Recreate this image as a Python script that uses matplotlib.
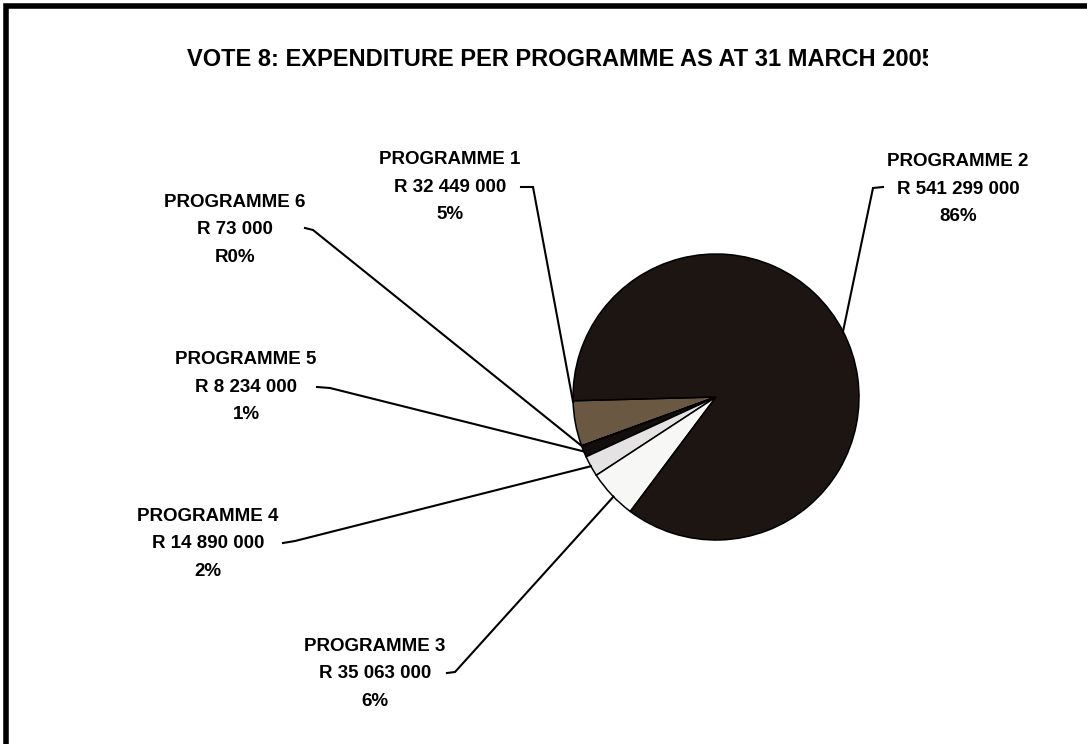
import matplotlib.pyplot as plt
from matplotlib.transforms import Bbox, TransformedBbox
import numpy as np

# Vote 8 expenditure per programme, 31 March 2005
programmes = ["PROGRAMME 1", "PROGRAMME 2", "PROGRAMME 3",
              "PROGRAMME 4", "PROGRAMME 5", "PROGRAMME 6"]
amounts = [32449000, 541299000, 35063000, 14890000, 8234000, 73000]
pct_labels = ["5%", "86%", "6%", "2%", "1%", "R0%"]
slice_colors = ["#6b5843", "#1c1512", "#f7f7f5", "#e4e2e2", "#130e0c", "#130e0c"]

# wedges go anticlockwise from the left: 1, 6, 5, 4, 3, then 2
draw_order = [0, 5, 4, 3, 2, 1]

W, H = 1087, 744
fig = plt.figure(figsize=(W / 100, H / 100), dpi=100)
ax = fig.add_axes([0, 0, 1, 1])


def fy(py):
    return H - py


pie_cx, pie_cy, pie_r = 716, fy(397), 143

wedges, _ = ax.pie([amounts[i] for i in draw_order],
                   colors=[slice_colors[i] for i in draw_order],
                   startangle=181.5, counterclock=True,
                   center=(pie_cx, pie_cy), radius=pie_r,
                   wedgeprops=dict(edgecolor="black", linewidth=1.1))
ax.set_xlim(0, W)
ax.set_ylim(0, H)
ax.set_aspect("equal")
ax.axis("off")

# label block: centre x, middle-row y, stub start, stub end, where on the wedge the leader lands
label_layout = {
    0: dict(x=450, y=185, stub=((521, 187), (533, 187)), frac=0.03),
    1: dict(x=958, y=187, stub=((883, 187), (873, 188)), frac=0.50),
    2: dict(x=375, y=672, stub=((447, 673), (455, 672)), frac=0.55),
    3: dict(x=208, y=542, stub=((283, 543), (295, 541)), frac=0.50),
    4: dict(x=246, y=385, stub=((317, 387), (330, 388)), frac=0.50),
    5: dict(x=235, y=228, stub=((305, 228), (313, 230)), frac=0.50),
}

font = dict(family="Liberation Sans", weight="bold", size=13.5, color="black")
row_gap = 27.5
cap_half = 6.5

angles = {}
for w, i in zip(wedges, draw_order):
    angles[i] = (w.theta1, w.theta2)

for i, lay in label_layout.items():
    rows = [programmes[i], "R " + f"{amounts[i]:,}".replace(",", " "), pct_labels[i]]
    for k, txt in enumerate(rows):
        ax.text(lay["x"], fy(lay["y"] + (k - 1) * row_gap + cap_half), txt,
                ha="center", va="baseline", **font)
    t1, t2 = angles[i]
    a = np.deg2rad(t1 + lay["frac"] * (t2 - t1))
    px = pie_cx + pie_r * np.cos(a)
    py = pie_cy + pie_r * np.sin(a)
    (sx, sy), (ex, ey) = lay["stub"]
    ax.plot([sx, ex, px], [fy(sy), fy(ey), py], color="black", lw=1.5,
            solid_joinstyle="miter", zorder=3)

# title runs past the chart area and its last digit gets cut off
title = ax.text(561, fy(60), "VOTE 8: EXPENDITURE PER PROGRAMME AS AT 31 MARCH 2005",
                ha="center", va="center", family="Liberation Sans", weight="bold",
                size=17, color="black")
title.set_clip_on(True)
title.set_clip_box(TransformedBbox(Bbox([[0, 0], [928, H]]), ax.transData))

# frame on the top and left edges
ax.plot([6, 6, W], [0, fy(6), fy(6)], color="black", lw=4, solid_joinstyle="miter",
        clip_on=False)

fig.savefig("out.png", dpi=100, facecolor="white")
